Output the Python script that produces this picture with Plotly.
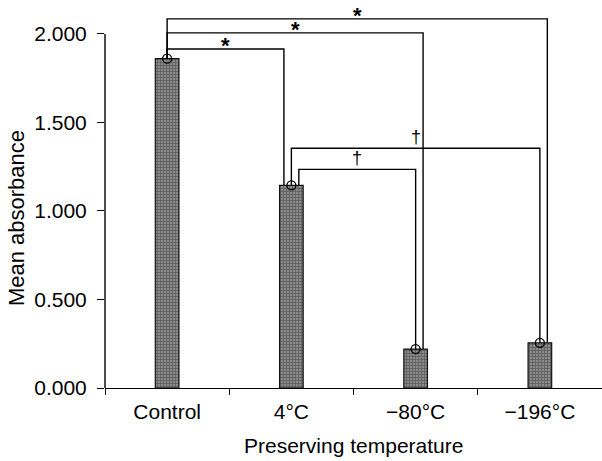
import plotly.graph_objects as go

categories = ["Control", "4°C", "−80°C", "−196°C"]
values = [1.86, 1.145, 0.22, 0.255]
y_ticks = [0, 0.5, 1.0, 1.5, 2.0]

# comparisons: (from index, to index, bracket level, start offset, end offset, symbol)
comp_from = [0, 0, 0, 1, 1]
comp_to = [1, 2, 3, 3, 2]
comp_level = [1.915, 2.006, 2.085, 1.354, 1.235]
comp_symbol = ["*", "*", "*", "†", "†"]
start_off = [0.0, 0.0, 0.0, 0.0, 0.06]
end_off = [-0.06, 0.06, 0.06, 0.0, 0.0]

FONT = "Liberation Sans, Arial, sans-serif"

fig = go.Figure()
fig.add_trace(go.Bar(
    x=categories, y=values, width=0.19,
    marker=dict(color="#777777", line=dict(color="#111111", width=1.2),
                pattern=dict(shape="+", size=3, solidity=0.4, fgcolor="#252525", bgcolor="#8a8a8a")),
    showlegend=False,
))
fig.add_trace(go.Scatter(
    x=categories, y=values, mode="markers",
    marker=dict(symbol="circle-open", size=9, color="black", line=dict(width=1.3)),
    showlegend=False, cliponaxis=False,
))

shapes = []
annotations = []
for a, b, lev, so, eo, sym in zip(comp_from, comp_to, comp_level, start_off, end_off, comp_symbol):
    x0 = a + so
    x1 = b + eo
    path = f"M {x0} {values[a]} L {x0} {lev} L {x1} {lev} L {x1} {values[b]}"
    shapes.append(dict(type="path", path=path, xref="x", yref="y",
                       line=dict(color="black", width=1.4)))
    if sym == "*":
        annotations.append(dict(x=(x0 + x1) / 2, y=lev, xref="x", yref="y", text="<b>*</b>",
                                showarrow=False, yanchor="bottom", yshift=-11,
                                font=dict(family=FONT, size=22, color="black")))
    else:
        annotations.append(dict(x=(x0 + x1) / 2, y=lev, xref="x", yref="y", text=sym,
                                showarrow=False, yanchor="bottom", yshift=-1,
                                font=dict(family=FONT, size=18, color="black")))

# y-axis line from 0 to the top tick
shapes.append(dict(type="line", xref="paper", yref="y", x0=0, x1=0, y0=0, y1=y_ticks[-1],
                   line=dict(color="black", width=1.4)))

annotations.append(dict(x=0.5, y=-0.152, xref="paper", yref="paper",
                        text="Preserving temperature", showarrow=False,
                        yanchor="middle", font=dict(family=FONT, size=21, color="black")))
annotations.append(dict(x=-0.179, y=0.446, xref="paper", yref="paper",
                        text="Mean absorbance", textangle=-90, showarrow=False,
                        xanchor="center", yanchor="middle", font=dict(family=FONT, size=22, color="black")))

fig.update_layout(
    width=602, height=461,
    margin=dict(l=105, r=0, t=7, b=73),
    plot_bgcolor="white", paper_bgcolor="white",
    shapes=shapes, annotations=annotations,
    font=dict(family=FONT, size=21, color="black"),
    xaxis=dict(type="category", showline=True, linecolor="black", linewidth=1.4,
               ticks="outside", tickson="boundaries", ticklen=6, tickcolor="black", tickwidth=1.3,
               showgrid=False, zeroline=False, ticklabelstandoff=5,
               tickfont=dict(family=FONT, size=21, color="black")),
    yaxis=dict(range=[0, 2.152], tickvals=y_ticks, tickformat=".3f",
               showline=False, ticks="outside", ticklen=7, tickcolor="black", tickwidth=1.3,
               showgrid=False, zeroline=False, ticklabelstandoff=6,
               tickfont=dict(family=FONT, size=21, color="black")),
)

# remove the browser's default 8px body margin so the figure fills the window
fig.write_html("out.html", config={"displayModeBar": False},
               post_script="document.body.style.margin='0';")
